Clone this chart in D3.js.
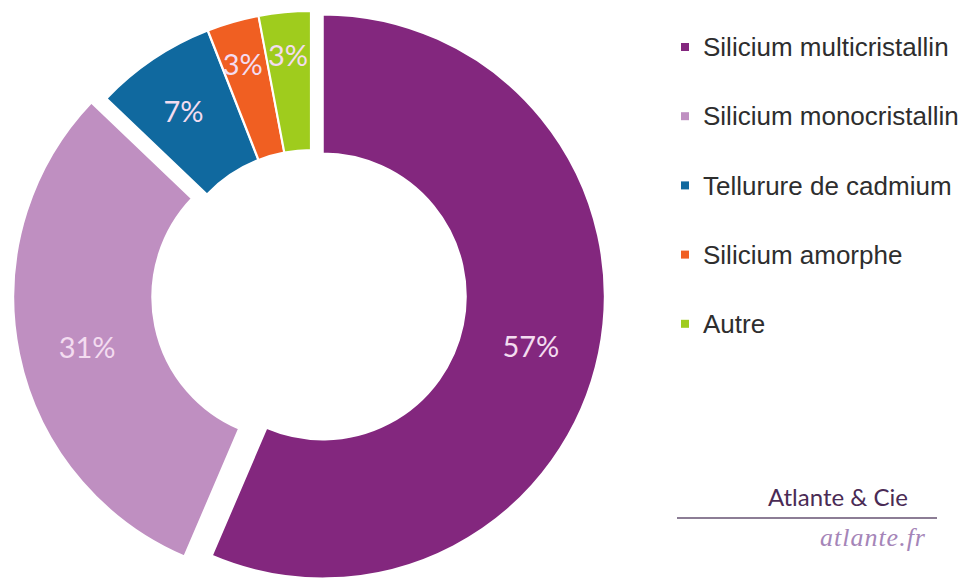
<!DOCTYPE html>
<html>
<head>
<meta charset="utf-8">
<script src="https://cdn.jsdelivr.net/npm/d3@7/dist/d3.min.js"></script>
<style>
  html, body { margin: 0; padding: 0; background: #ffffff; }
  svg { display: block; }
</style>
</head>
<body>
<svg id="chart" width="973" height="580"></svg>
<script>
// ---- data ----
const categories = ["Silicium multicristallin", "Silicium monocristallin", "Tellurure de cadmium", "Silicium amorphe", "Autre"];
const values = [57, 31, 7, 3, 3];
const labels = ["57%", "31%", "7%", "3%", "3%"];
const colors = ["#83277e", "#bf8fc1", "#10699f", "#f05f22", "#9fcc1d"];
const explode = [12, 16, 1, 1, 1];

// ---- layout ----
const W = 973, H = 580;
const cx = 311, cy = 294;
const R = 282, r = 143;

const svg = d3.select("#chart");
const data = categories.map((c, i) => ({ name: c, value: values[i], label: labels[i], color: colors[i], ex: explode[i] }));

const pie = d3.pie().sort(null).value(d => d.value);
const arcs = pie(data);
const arc = d3.arc().innerRadius(r).outerRadius(R);

const g = svg.append("g").attr("transform", `translate(${cx},${cy})`);

function offset(a, dist) {
  const m = (a.startAngle + a.endAngle) / 2;
  return [Math.sin(m) * dist, -Math.cos(m) * dist];
}

g.selectAll("path.slice")
  .data(arcs)
  .join("path")
  .attr("class", "slice")
  .attr("d", arc)
  .attr("fill", d => d.data.color)
  .attr("stroke", "#ffffff")
  .attr("stroke-width", 2)
  .attr("transform", d => { const o = offset(d, d.data.ex); return `translate(${o[0]},${o[1]})`; });

function labelRadius(v) {
  if (v < 5) return R - 36;
  if (v < 10) return R - 54;
  return (R + r) / 2;
}

g.selectAll("text.lbl")
  .data(arcs)
  .join("text")
  .attr("class", "lbl")
  .attr("x", d => offset(d, d.data.ex + labelRadius(d.data.value))[0])
  .attr("y", d => offset(d, d.data.ex + labelRadius(d.data.value))[1] + 8)
  .attr("dy", "0.35em")
  .attr("text-anchor", "middle")
  .attr("font-family", "Lato, 'Open Sans', sans-serif")
  .attr("font-size", 29)
  .attr("fill", "#f3dcf0")
  .text(d => d.data.label);

// ---- legend ----
const legend = svg.append("g").attr("transform", "translate(681,47)");
const li = legend.selectAll("g").data(data).join("g")
  .attr("transform", (d, i) => `translate(0,${i * 69.2})`);
li.append("rect").attr("x", 0).attr("y", -4).attr("width", 8).attr("height", 8).attr("fill", d => d.color);
li.append("text").attr("x", 22).attr("y", 0).attr("dy", "0.35em")
  .attr("font-family", "'Liberation Sans', Arial, sans-serif")
  .attr("font-size", 26)
  .attr("fill", "#2e2e2e")
  .text(d => d.name);

// ---- watermark ----
svg.append("text").attr("x", 908).attr("y", 506).attr("text-anchor", "end")
  .attr("font-family", "Lato, 'Open Sans', sans-serif").attr("font-size", 24)
  .attr("fill", "#4a2b55").text("Atlante & Cie");
svg.append("line").attr("x1", 677).attr("x2", 937).attr("y1", 518).attr("y2", 518)
  .attr("stroke", "#8c7d95").attr("stroke-width", 2);
svg.append("text").attr("x", 926).attr("y", 546).attr("text-anchor", "end")
  .attr("font-family", "'Liberation Serif', 'DejaVu Serif', serif").attr("font-style", "italic")
  .attr("font-size", 26).attr("letter-spacing", 1).attr("fill", "#a585b8").text("atlante.fr");
</script>
</body>
</html>
